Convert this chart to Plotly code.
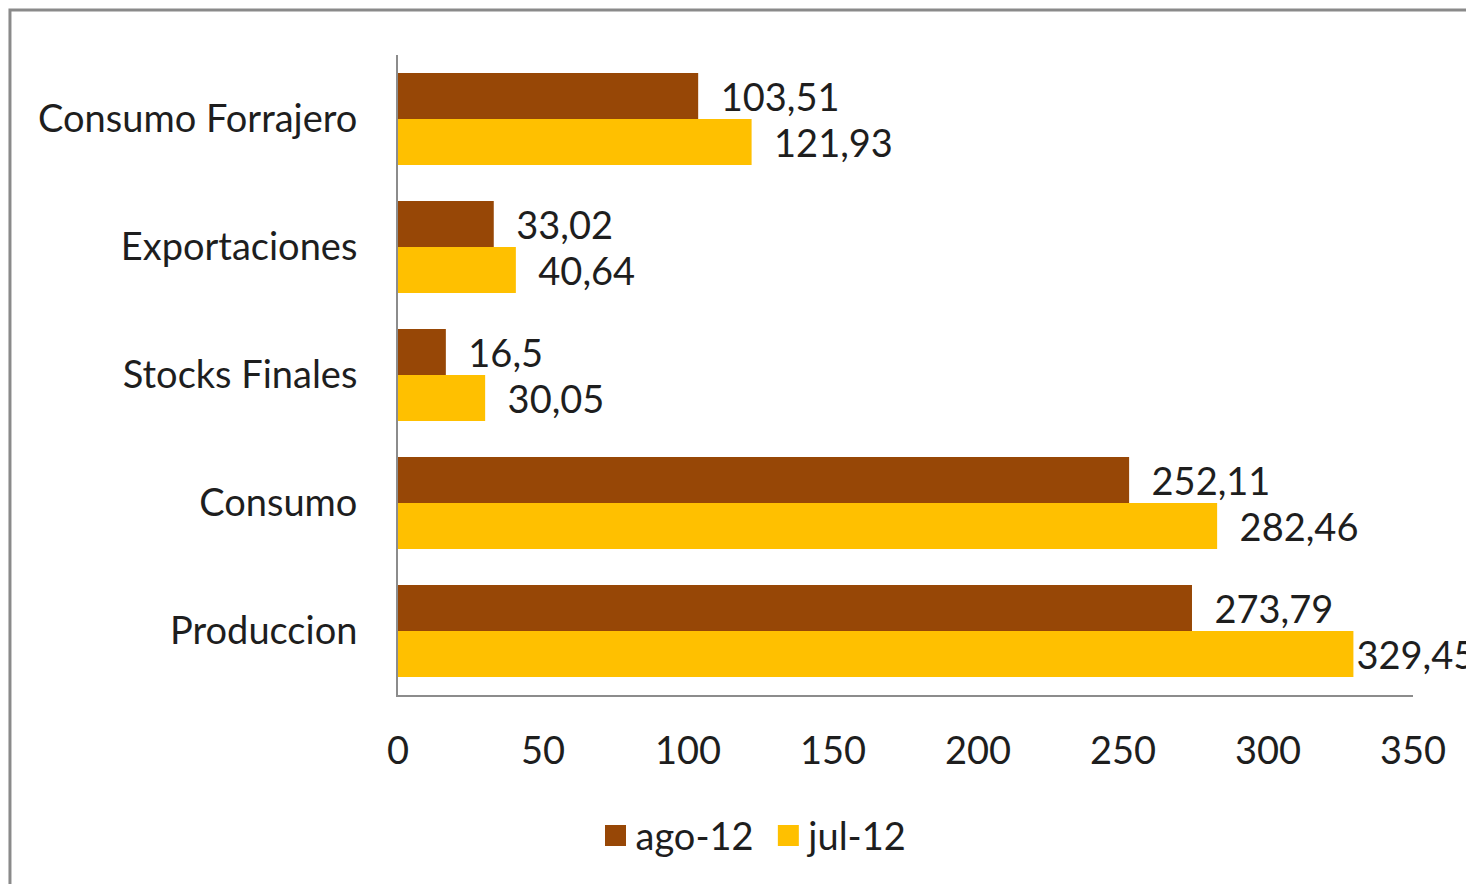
import plotly.graph_objects as go

categories = ["Produccion", "Consumo", "Stocks Finales", "Exportaciones", "Consumo Forrajero"]
ago_12 = [273.79, 252.11, 16.5, 33.02, 103.51]
jul_12 = [329.45, 282.46, 30.05, 40.64, 121.93]
x_ticks = [0, 50, 100, 150, 200, 250, 300, 350]

FONT = "Lato"
FS = 38
TXT = "#1e1e1e"
BROWN = "#974706"
YELLOW = "#FFC000"
PAD = "\u00a0\u00a0"

fig = go.Figure()
fig.add_trace(go.Bar(
    y=categories, x=jul_12, name="jul-12", orientation="h",
    marker=dict(color=YELLOW, line=dict(width=0)),
    texttemplate=["%{x}"] + [PAD + "%{x}"] * (len(categories) - 1),
    textposition="outside",
    cliponaxis=False, constraintext="none", showlegend=False,
    textfont=dict(family=FONT, size=FS, color=TXT),
))
fig.add_trace(go.Bar(
    y=categories, x=ago_12, name="ago-12", orientation="h",
    marker=dict(color=BROWN, line=dict(width=0)),
    texttemplate=PAD + "%{x}", textposition="outside",
    cliponaxis=False, constraintext="none", showlegend=False,
    textfont=dict(family=FONT, size=FS, color=TXT),
))
# legend entries with larger square keys
for name, col in [("ago-12\u00a0", BROWN), ("jul-12", YELLOW)]:
    fig.add_trace(go.Scatter(
        x=[None], y=[None], mode="markers", name=name,
        marker=dict(symbol="square", size=16, color=col,
                    line=dict(color=col, width=5)),
        showlegend=True,
    ))

fig.update_layout(
    width=1466, height=876,
    margin=dict(l=390, r=61, t=47, b=189),
    paper_bgcolor="white", plot_bgcolor="white",
    barmode="group", bargap=0.28, bargroupgap=0,
    separators=",.",
    font=dict(family=FONT, size=FS, color=TXT),
    legend=dict(orientation="h", traceorder="normal",
                x=0.1946, xanchor="left", y=-0.22, yanchor="middle",
                font=dict(family=FONT, size=FS, color=TXT),
                itemwidth=30),
    xaxis=dict(range=[0, 350], tickvals=x_ticks, showgrid=False, zeroline=False,
               showline=True, linecolor="#8c8c8c", linewidth=2,
               ticks="", ticklabelstandoff=21,
               tickfont=dict(family=FONT, size=FS, color=TXT)),
    yaxis=dict(showgrid=False, zeroline=False, showline=True,
               linecolor="#8c8c8c", linewidth=2, ticks="",
               ticklabelstandoff=31,
               tickfont=dict(family=FONT, size=FS, color=TXT)),
    shapes=[dict(type="rect", xref="paper", yref="paper",
                 x0=-0.3823, x1=1.2, y0=-0.5, y1=1.0703,
                 line=dict(color="#8a8a8a", width=3), fillcolor="rgba(0,0,0,0)",
                 layer="below")],
)

fig.write_html("out.html")
